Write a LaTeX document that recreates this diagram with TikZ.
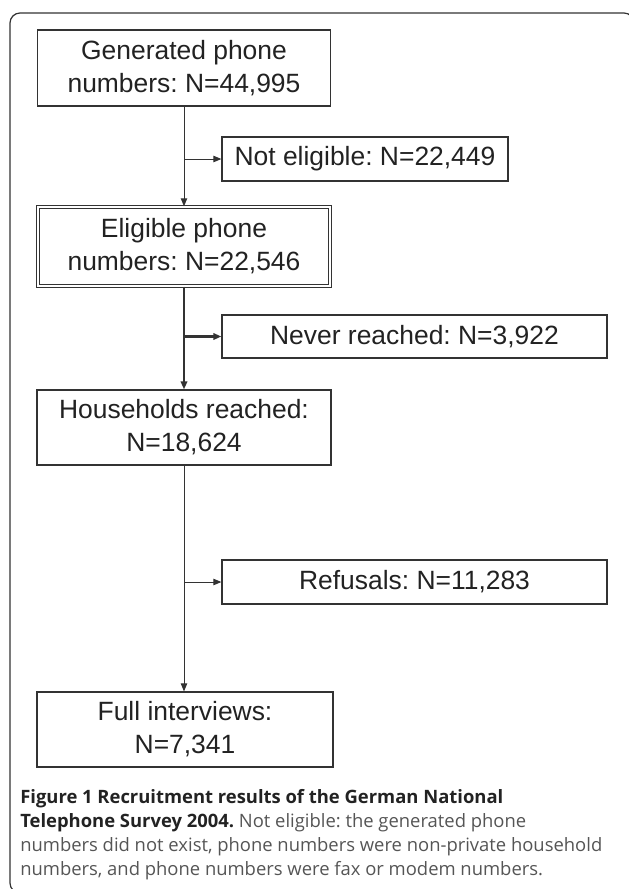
\documentclass[tikz,border=0pt]{standalone}
\usepackage{fontspec}
\setmainfont{Liberation Sans}
\newfontfamily\capfont{Open Sans}
\usetikzlibrary{arrows.meta}
\definecolor{linegray}{HTML}{333333}
\definecolor{textdark}{HTML}{222222}
\definecolor{capgray}{HTML}{555555}
\frenchspacing

\begin{document}
\begin{tikzpicture}[ x=0.25mm, y=-0.25mm,
  box/.style={draw=linegray, line width=0.3mm, text=textdark, align=center,
    font=\fontsize{18.8}{23.5}\selectfont, inner sep=0pt},
  flow/.style={draw=linegray, line width=0.25mm, -{Triangle[length=2mm,width=1.6mm]}},
  boldflow/.style={flow, line width=0.55mm},
]
\useasboundingbox (0,0) rectangle (629,889);

% outer frame
\draw[linegray, line width=0.3mm, rounded corners=2.5mm] (10,13) rectangle (634,893);

\node[box, minimum width=73.25mm, minimum height=19mm] (gen) at (184,68) {Generated phone\\numbers: N=44,995};
\node[box, minimum width=71.5mm, minimum height=11mm] (noteli) at (365,159) {Not eligible: N=22,449};
\node[box, minimum width=73mm, minimum height=19.8mm, double=white, double distance=0.45mm] (elig) at (184,246.5) {Eligible phone\\numbers: N=22,546};
\node[box, minimum width=96.25mm, minimum height=10.75mm] (never) at (414.5,336.5) {Never reached: N=3,922};
\node[box, minimum width=73.5mm, minimum height=18.75mm] (house) at (184,427.5) {Households reached:\\N=18,624};
\node[box, minimum width=96.25mm, minimum height=11mm] (refus) at (414.5,582) {Refusals: N=11,283};
\node[box, minimum width=74mm, minimum height=18.75mm] (full) at (185,729.5) {Full interviews:\\N=7,341};

\draw[flow] (gen.south) -- (elig.north);
\draw[flow] (noteli.west -| gen.south) -- (noteli.west);
\draw[boldflow] (elig.south) -- (house.north);
\draw[boldflow] (never.west -| elig.south) -- (never.west);
\draw[flow] (house.south) -- (house.south |- full.north);
\draw[flow] (refus.west -| house.south) -- (refus.west);

\node[anchor=north west, align=left, inner sep=0pt, text=capgray,
  font=\capfont\fontsize{13.1}{17.1}\selectfont] (caption) at (20,789)
  {\textcolor{textdark}{\textbf{Figure 1 Recruitment results of the German National}}\\
   \textcolor{textdark}{\textbf{Telephone Survey 2004.}} Not eligible: the generated phone\\
   numbers did not exist, phone numbers were non-private household\\
   numbers, and phone numbers were fax or modem numbers.};

\end{tikzpicture}
\end{document}
